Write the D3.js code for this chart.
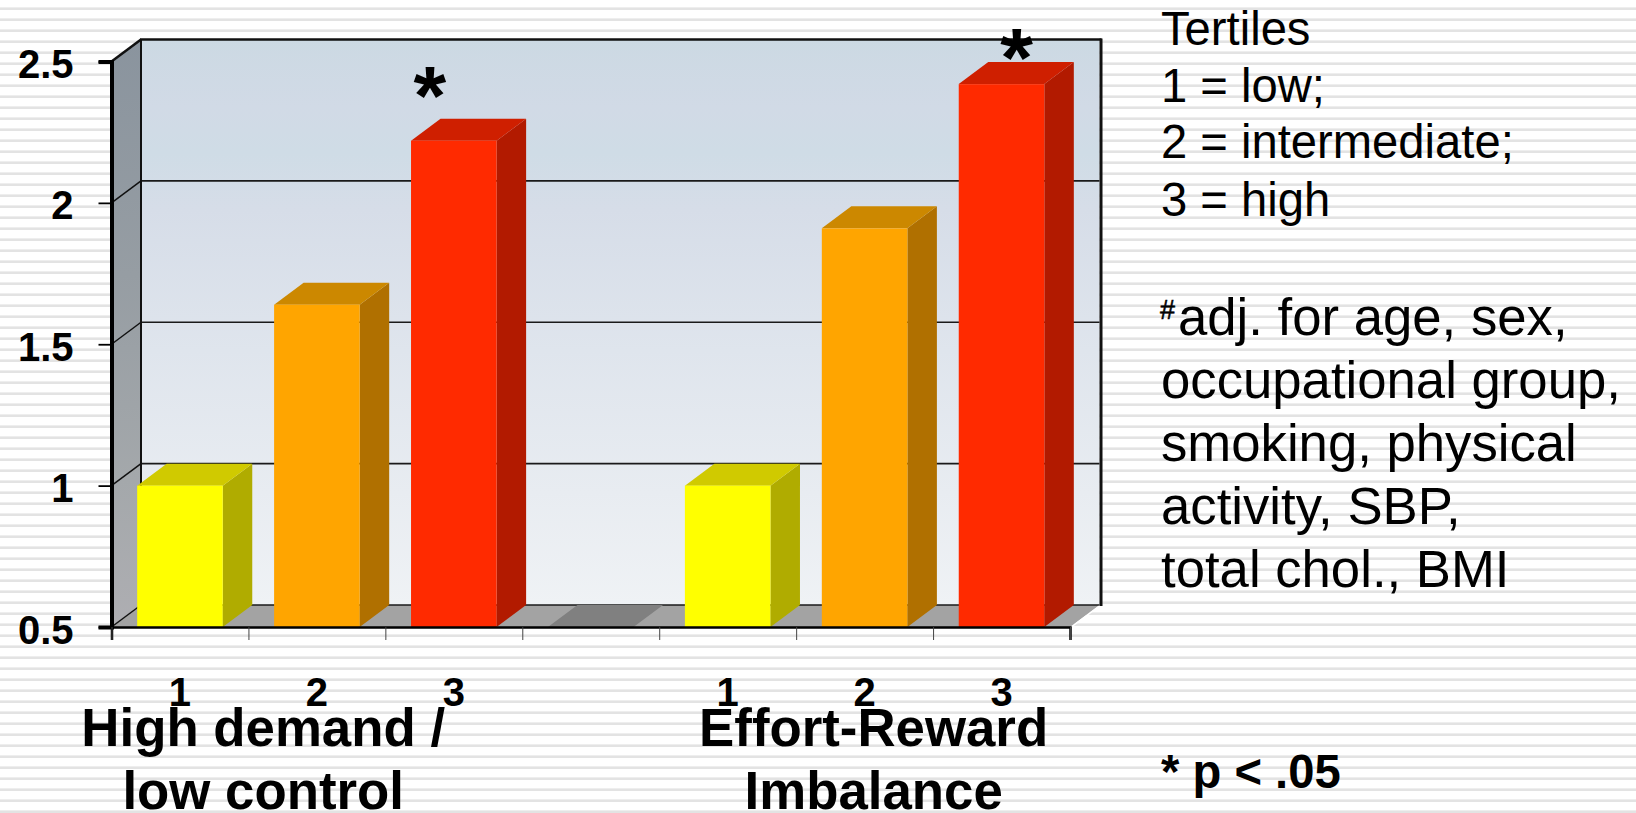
<!DOCTYPE html>
<html>
<head>
<meta charset="utf-8">
<script src="https://cdnjs.cloudflare.com/ajax/libs/d3/7.8.5/d3.min.js"></script>
<style>
html,body{margin:0;padding:0;background:#fff;overflow:hidden}
svg{display:block}
text{font-family:"Liberation Sans",Arial,sans-serif;fill:#000}
</style>
</head>
<body>
<svg id="chart" width="1636" height="813"></svg>
<script>
// ---- data ----
const categoryKeys   = ["a1","a2","a3","gap","b1","b2","b3"];
const categoryLabels = ["1","2","3","","1","2","3"];
const values         = [1.0,1.64,2.22,null,1.0,1.91,2.42];
const tiers          = [0,1,2,null,0,1,2];
const significant    = ["a3","b3"];
const yTicks         = [0.5,1,1.5,2,2.5];
const yTickLabels    = ["0.5","1","1.5","2","2.5"];
const groupTitles    = [["High demand /","low control"],["Effort-Reward","Imbalance"]];
const groupCenters   = [1.108,5.566];   // in category-band units
const legendLines    = ["Tertiles","1 = low;","2 = intermediate;","3 = high"];
const adjustLines    = ["adj. for age, sex,","occupational group,","smoking, physical","activity, SBP,","total chol., BMI"];
const footnote       = "* p < .05";

// ---- styles ----
const frontColors = ["#ffff00","#ffa500","#ff2a00"];
const topColors   = ["#d0ca00","#cc8800","#cf1f00"];
const sideColors  = ["#b0ac00","#b07000","#b21a00"];
const starOffset  = {a3:{dx:-24,dy:-34},b3:{dx:15,dy:-16}};

const svg = d3.select("#chart");
const defs = svg.append("defs");

// striped slide background
const pat = defs.append("pattern").attr("id","stripes").attr("patternUnits","userSpaceOnUse")
  .attr("width",10).attr("height",11);
pat.append("rect").attr("width",10).attr("height",11).attr("fill","#ffffff");
pat.append("rect").attr("y",7).attr("width",10).attr("height",1).attr("fill","#eeeeee");
pat.append("rect").attr("y",8).attr("width",10).attr("height",2).attr("fill","#e3e3e3");
svg.append("rect").attr("width",1636).attr("height",813).attr("fill","url(#stripes)");

const wallGrad = defs.append("linearGradient").attr("id","wall").attr("x1",0).attr("x2",0).attr("y1",0).attr("y2",1);
[[0,"#ccd9e3"],[0.12,"#d1dae6"],[0.2,"#cfdce6"],[0.3,"#d6dde8"],[0.55,"#dfe5ed"],[0.8,"#e8ecf1"],[1,"#eff2f5"]]
  .forEach(d=>wallGrad.append("stop").attr("offset",d[0]).attr("stop-color",d[1]));
const sideGrad = defs.append("linearGradient").attr("id","leftwall").attr("x1",0).attr("x2",0).attr("y1",0).attr("y2",1);
[[0,"#8a949e"],[0.4,"#969da3"],[0.75,"#a4a8ab"],[1,"#aeaeb2"]]
  .forEach(d=>sideGrad.append("stop").attr("offset",d[0]).attr("stop-color",d[1]));

// ---- scales ----
const x = d3.scaleBand().domain(categoryKeys).range([111.5,1070]).paddingInner(0).paddingOuter(0);
const xEdges = d3.scaleLinear().domain([0,7]).range(x.range());
const y = d3.scaleLinear().domain([0.5,2.5]).range([627,61.5]);
const depthX = 29.5, depthY = -22;
const barW = x.bandwidth()*0.625;
const barX = k => x(k)+(x.bandwidth()-barW)/2;
const poly = pts => pts.map(p=>p.join(",")).join(" ");

const [x0,x1] = x.range(), y0 = y(0.5), yT = y(2.5);

// back wall
svg.append("rect").attr("x",x0+depthX).attr("y",yT+depthY)
  .attr("width",x1-x0).attr("height",y0-yT).attr("fill","url(#wall)");
// floor
svg.append("polygon").attr("fill","#a3a3a3")
  .attr("points",poly([[x0,y0],[x1,y0],[x1+depthX,y0+depthY],[x0+depthX,y0+depthY]]));
// left wall
svg.append("polygon").attr("fill","url(#leftwall)")
  .attr("points",poly([[x0,y0],[x0+depthX,y0+depthY],[x0+depthX,yT+depthY],[x0,yT]]));

// gridlines on back wall + left wall
const grid = svg.append("g");
yTicks.forEach(t=>{
  const yy=y(t);
  if(t!==2.5) grid.append("line").attr("x1",x0+depthX).attr("x2",x1+depthX)
    .attr("y1",yy+depthY).attr("y2",yy+depthY).attr("stroke","#1a1a1a").attr("stroke-width",1.6);
  grid.append("line").attr("x1",x0).attr("x2",x0+depthX).attr("y1",yy).attr("y2",yy+depthY)
    .attr("stroke","#111").attr("stroke-width",t===2.5?2.5:1.5);
});
// wall frame
const frame = [[x0+depthX,yT+depthY,x0+depthX,y0+depthY,2],
               [x0+depthX-1,yT+depthY,x1+depthX+2,yT+depthY,2.4],
               [x1+depthX+1.5,yT+depthY-1,x1+depthX+1.5,y0+depthY+1,3]];
frame.forEach(f=>svg.append("line").attr("x1",f[0]).attr("y1",f[1]).attr("x2",f[2]).attr("y2",f[3])
  .attr("stroke","#111").attr("stroke-width",f[4]));
// white lip at the front right corner of the floor
svg.append("line").attr("x1",x1).attr("y1",y0+1).attr("x2",x1+depthX).attr("y2",y0+depthY+1)
  .attr("stroke","#fff").attr("stroke-width",1.5);

// shaded floor patch at the empty category
const gapK = categoryKeys[values.indexOf(null)];
svg.append("polygon").attr("fill","#808080")
  .attr("points",poly([[barX(gapK),y0],[barX(gapK)+barW,y0],[barX(gapK)+barW+depthX,y0+depthY],[barX(gapK)+depthX,y0+depthY]]));

// bars
const rows = categoryKeys.map((k,i)=>({k,v:values[i],t:tiers[i]})).filter(d=>d.v!==null);
const bars = svg.append("g").selectAll("g").data(rows).join("g");
bars.append("polygon").attr("fill",d=>sideColors[d.t]).attr("points",d=>{
  const r=barX(d.k)+barW; return poly([[r,y(d.v)],[r+depthX,y(d.v)+depthY],[r+depthX,y0+depthY],[r,y0]]);});
bars.append("polygon").attr("fill",d=>topColors[d.t]).attr("points",d=>{
  const l=barX(d.k),r=l+barW; return poly([[l,y(d.v)],[r,y(d.v)],[r+depthX,y(d.v)+depthY],[l+depthX,y(d.v)+depthY]]);});
bars.append("rect").attr("fill",d=>frontColors[d.t]).attr("x",d=>barX(d.k)).attr("y",d=>y(d.v))
  .attr("width",barW).attr("height",d=>y0-y(d.v));

// significance marks
svg.append("g").selectAll("text").data(rows.filter(d=>significant.includes(d.k))).join("text")
  .attr("x",d=>barX(d.k)+barW/2+starOffset[d.k].dx).attr("y",d=>y(d.v)+starOffset[d.k].dy)
  .attr("text-anchor","middle").attr("font-weight","bold").attr("font-size",84)
  .attr("dy","0.22em").text("*");

// y axis
const yAxis = svg.append("g").attr("transform",`translate(${x0},0)`)
  .call(d3.axisLeft(y).tickValues(yTicks).tickSize(13).tickPadding(25)
        .tickFormat((d,i)=>yTickLabels[i]));
yAxis.select(".domain").attr("stroke","#000").attr("stroke-width",4);
yAxis.selectAll(".tick line").attr("stroke","#000").attr("stroke-width",1.8);
yAxis.selectAll("text").attr("font-size",40).attr("font-weight","bold").attr("dy","0.4em")
  .style("font-family",'"Liberation Sans",Arial,sans-serif');

// x axis: band edges
const xAxis = svg.append("g").attr("transform",`translate(0,${y0})`)
  .call(d3.axisBottom(xEdges).ticks(7).tickSize(13).tickFormat(""));
xAxis.select(".domain").attr("stroke","#000").attr("stroke-width",2.5);
xAxis.selectAll(".tick line").attr("stroke","#444").attr("stroke-width",1);

// x axis: category numbers
const xLabels = svg.append("g").attr("transform",`translate(0,${y0})`)
  .call(d3.axisBottom(x).tickSize(0).tickFormat((d,i)=>categoryLabels[i]));
xLabels.select(".domain").remove();
xLabels.selectAll("text").attr("y",79).attr("dy",0).attr("font-size",40).attr("font-weight","bold")
  .style("font-family",'"Liberation Sans",Arial,sans-serif');

// group titles
const titleBase = [746,809];
groupTitles.forEach((lines,g)=>{
  lines.forEach((s,i)=>{
    svg.append("text").attr("x",xEdges(groupCenters[g])).attr("y",titleBase[i])
      .attr("text-anchor","middle").attr("font-weight","bold").attr("font-size",52.8).text(s);
  });
});

// right-hand notes
const legendBase = [44.5,102,158,215.5];
svg.append("g").selectAll("text").data(legendLines).join("text")
  .attr("x",1161).attr("y",(d,i)=>legendBase[i]).attr("font-size",47.2).text(d=>d);
const adjustBase = [335,397.5,461,524,587];
svg.append("g").selectAll("text").data(adjustLines).join("text")
  .attr("x",(d,i)=>i===0?1178:1161).attr("y",(d,i)=>adjustBase[i]).attr("font-size",52.7).text(d=>d);
svg.append("text").attr("x",1160).attr("y",319).attr("font-size",27)
  .style("stroke","#000").style("stroke-width",0.5).text("#");
svg.append("text").attr("x",1161).attr("y",788).attr("font-size",47.2).attr("font-weight","bold").text(footnote);
</script>
</body>
</html>
